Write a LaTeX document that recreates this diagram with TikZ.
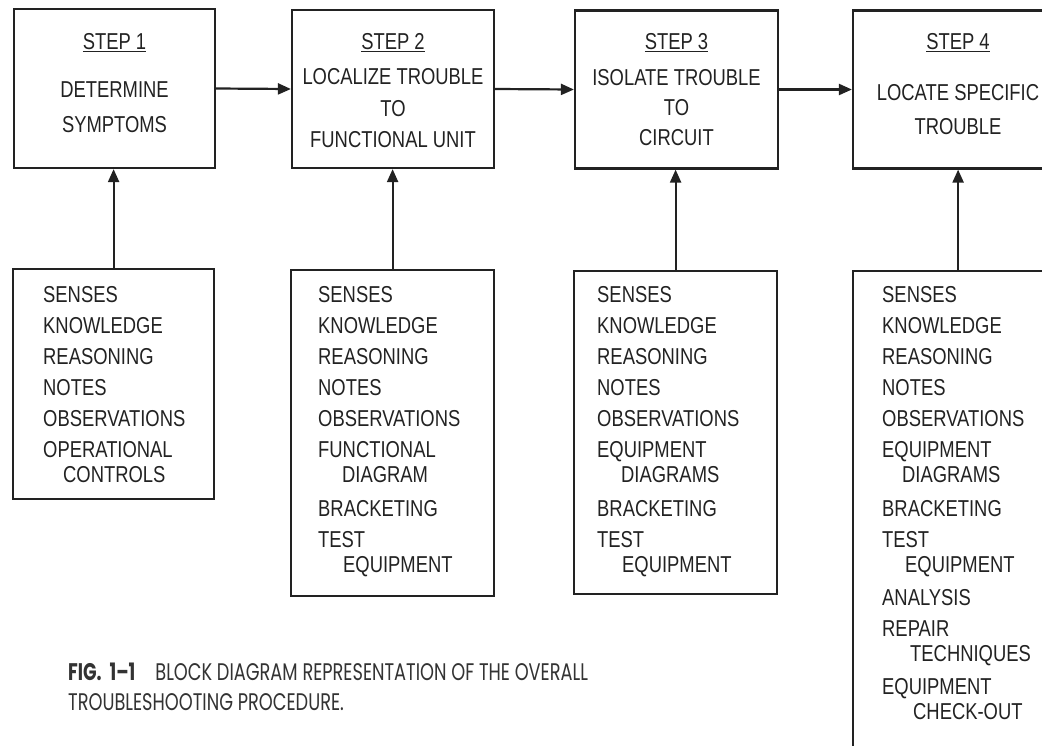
\documentclass[tikz,border=0pt]{standalone}
\usepackage{fontspec}
\setsansfont{Liberation Sans}[FakeStretch=0.8]
\newfontfamily\capfont{Poppins}[FakeStretch=0.74]
\usetikzlibrary{arrows.meta}
\definecolor{ink}{HTML}{222222}
\definecolor{capink}{HTML}{333333}
\begin{document}
\begin{tikzpicture}[x=1pt,y=-1pt,
  stepbox/.style={draw=ink, line width=2.2pt, minimum width=#1, minimum height=158pt, inner sep=0pt},
  listbox/.style={draw=ink, line width=2.2pt, anchor=north west, inner sep=0pt},
  lett/.style={text=ink, inner sep=0pt, font=\sffamily\fontsize{23}{#1}\selectfont},
  lett/.default=31,
  title/.style={lett, anchor=north},
  body/.style={lett=#1, anchor=north, align=center},
  items/.style={lett, anchor=north west, align=left},
  conn/.style={draw=ink, line width=2.2pt, -{Triangle[length=13pt,width=11pt]}},
  caption/.style={text=capink, inner sep=0pt, anchor=north west, align=left,
    font=\capfont\fontsize{24}{30}\selectfont}
]
\useasboundingbox (0,0) rectangle (1042,745);
\clip (0,0) rectangle (1042,745);
\fill[white] (0,0) rectangle (1042,745);

% upper step boxes
\node[stepbox=201pt, minimum height=159pt] (s1) at (114.5,88.5) {};
\node[stepbox=202pt] (s2) at (393,89) {};
\node[stepbox=203pt] (s3) at (676.5,89.5) {};
\node[stepbox=210pt] (s4) at (958,89.5) {};

\node[title] (t1) at (s1.north |- 0,33.5) {\underline{STEP 1}};
\node[title] (t2) at (s2.north |- 0,33.5) {\underline{STEP 2}};
\node[title] (t3) at (s3.north |- 0,33.5) {\underline{STEP 3}};
\node[title] (t4) at (s4.north |- 0,33.5) {\underline{STEP 4}};

\node[body=35] (b1) at (s1.north |- 0,81.5) {DETERMINE\\SYMPTOMS};
\node[body=31.5] (b2) at (s2.north |- 0,68.5) {LOCALIZE TROUBLE\\TO\\FUNCTIONAL UNIT};
\node[body=30] (b3) at (s3.north |- 0,69.5) {ISOLATE TROUBLE\\TO\\CIRCUIT};
\node[body=34] (b4) at (s4.north |- 0,84.5) {LOCATE SPECIFIC\\TROUBLE};

% lower resource boxes
\node[listbox, minimum width=201pt, minimum height=230pt] (r1) at (12,268) {};
\node[listbox, minimum width=203pt, minimum height=326pt] (r2) at (290,269) {};
\node[listbox, minimum width=203pt, minimum height=323pt] (r3) at (573,270) {};
\node[listbox, minimum width=210pt, minimum height=500pt] (r4) at (852,270) {};

\node[items] (l1) at (43,286.5) {SENSES\\KNOWLEDGE\\REASONING\\NOTES\\OBSERVATIONS\\OPERATIONAL\\[-6pt]
  \hspace{20pt}CONTROLS};
\node[items] (l2) at (318,286.5) {SENSES\\KNOWLEDGE\\REASONING\\NOTES\\OBSERVATIONS\\FUNCTIONAL\\[-6pt]
  \hspace{24pt}DIAGRAM\\[3pt]BRACKETING\\TEST\\[-6pt]\hspace{25pt}EQUIPMENT};
\node[items] (l3) at (597,286.5) {SENSES\\KNOWLEDGE\\REASONING\\NOTES\\OBSERVATIONS\\EQUIPMENT\\[-6pt]
  \hspace{24pt}DIAGRAMS\\[3pt]BRACKETING\\TEST\\[-6pt]\hspace{25pt}EQUIPMENT};
\node[items] (l4) at (882,286.5) {SENSES\\KNOWLEDGE\\REASONING\\NOTES\\OBSERVATIONS\\EQUIPMENT\\[-6pt]
  \hspace{20pt}DIAGRAMS\\[3pt]BRACKETING\\TEST\\[-6pt]\hspace{23pt}EQUIPMENT\\[2pt]ANALYSIS\\
  REPAIR\\[-6pt]\hspace{28pt}TECHNIQUES\\[2pt]EQUIPMENT\\[-6pt]\hspace{31pt}CHECK-OUT};

% connectors
\draw[conn] (s1.east) -- (s2.west);
\draw[conn] (s2.east) -- (s3.west);
\draw[conn] (s3.east) -- (s4.west);
\draw[conn] (r1.north) -- (r1.north |- s1.south);
\draw[conn] (r2.north) -- (r2.north |- s2.south);
\draw[conn] (r3.north) -- (r3.north |- s3.south);
\draw[conn] (r4.north) -- (r4.north |- s4.south);

% caption
\node[caption] (cap) at (68,663) {\textbf{FIG.\,\,1–1}\hspace{20pt}BLOCK DIAGRAM REPRESENTATION OF THE OVERALL\\TROUBLESHOOTING PROCEDURE.};
\end{tikzpicture}
\end{document}
